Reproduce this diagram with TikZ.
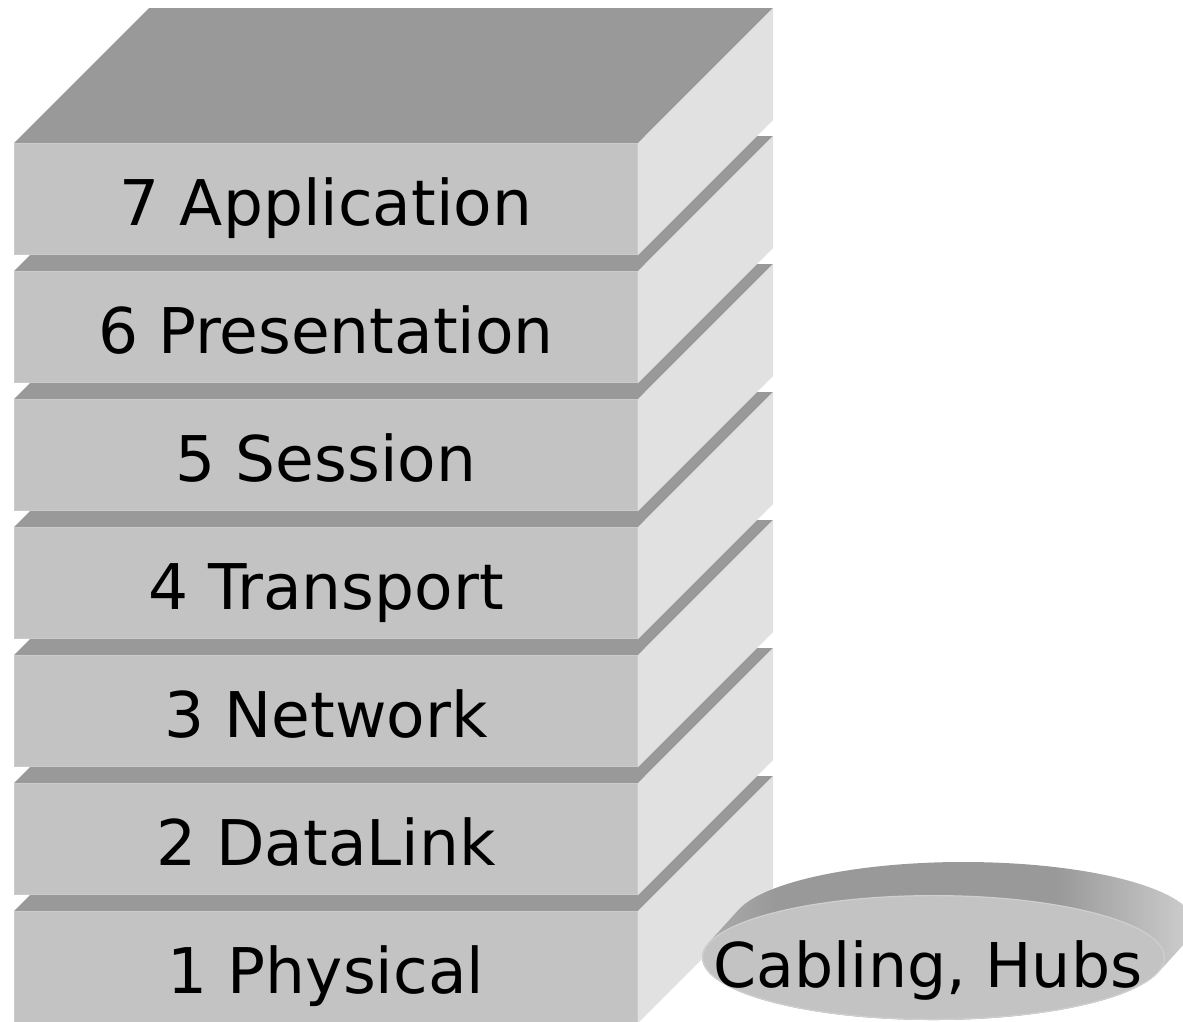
\documentclass[tikz,border=0pt]{standalone}
\usepackage{fontspec}
\setmainfont{DejaVu Sans}
% layer colours
\definecolor{facefront}{HTML}{C3C3C3}
\definecolor{frontedge}{HTML}{CBCBCB}
\definecolor{facetop}{HTML}{999999}
\definecolor{faceside}{HTML}{E1E1E1}
% disc rim colours
\definecolor{rimL}{HTML}{B4B4B4}
\definecolor{rimD}{HTML}{999999}
\definecolor{rimR}{HTML}{D8D8D8}
\definecolor{discedge}{HTML}{CFCFCF}
\pgfdeclarehorizontalshading{rimshade}{100bp}{color(0bp)=(rimL); color(25bp)=(rimL); color(34bp)=(rimD); color(60bp)=(rimD); color(75bp)=(rimR); color(100bp)=(rimR)}
\begin{document}
\begin{tikzpicture}[x=1pt,y=-1pt]
\tikzset{
  frontface/.style={fill=facefront, draw=frontedge, line width=1.2pt},
  topface/.style={fill=facetop},
  sideface/.style={fill=faceside},
  layerlabel/.style={font=\fontsize{63}{75}\selectfont, anchor=base, inner sep=0pt},
  disclabel/.style={layerlabel, font=\fontsize{61.7}{74}\selectfont},
}
\useasboundingbox (0,0) rectangle (1183,1021);
\clip (0,0) rectangle (1183,1021);

% stack of seven layers, drawn bottom to top so each box hides the one below
\foreach \n/\txt in {1/1 Physical, 2/2 DataLink, 3/3 Network, 4/4 Transport,
                     5/5 Session, 6/6 Presentation, 7/7 Application} {
  \pgfmathsetmacro\T{143+128*(7-\n)}
  \fill[topface] (14,\T) -- (149,\T-135) -- (773,\T-135) -- (638,\T) -- cycle;
  \fill[sideface] (638,\T) -- (773,\T-135) -- (773,\T-23) -- (638,\T+112) -- cycle;
  \filldraw[frontface] (14.6,\T+0.6) rectangle (637.4,\T+111.4);
  \node[layerlabel] (layer\n) at (326,\T+82) {\txt};
}

% extruded disc beside the physical layer
\coordinate (disc) at (933.5,957.5);
\shade[shading=rimshade]
  (disc) ++(13.8:231.5 and 62.5)
  arc[start angle=13.8, end angle=193.8, x radius=231.5, y radius=62.5]
  -- ++(30,-33)
  arc[start angle=193.8, end angle=373.8, x radius=231.5, y radius=62.5]
  -- cycle;
\filldraw[fill=facefront, draw=discedge, line width=1.2pt]
  (disc) ellipse [x radius=230.9, y radius=61.9];
\node[disclabel] (cabling) at (928,987) {Cabling, Hubs};
\end{tikzpicture}
\end{document}
